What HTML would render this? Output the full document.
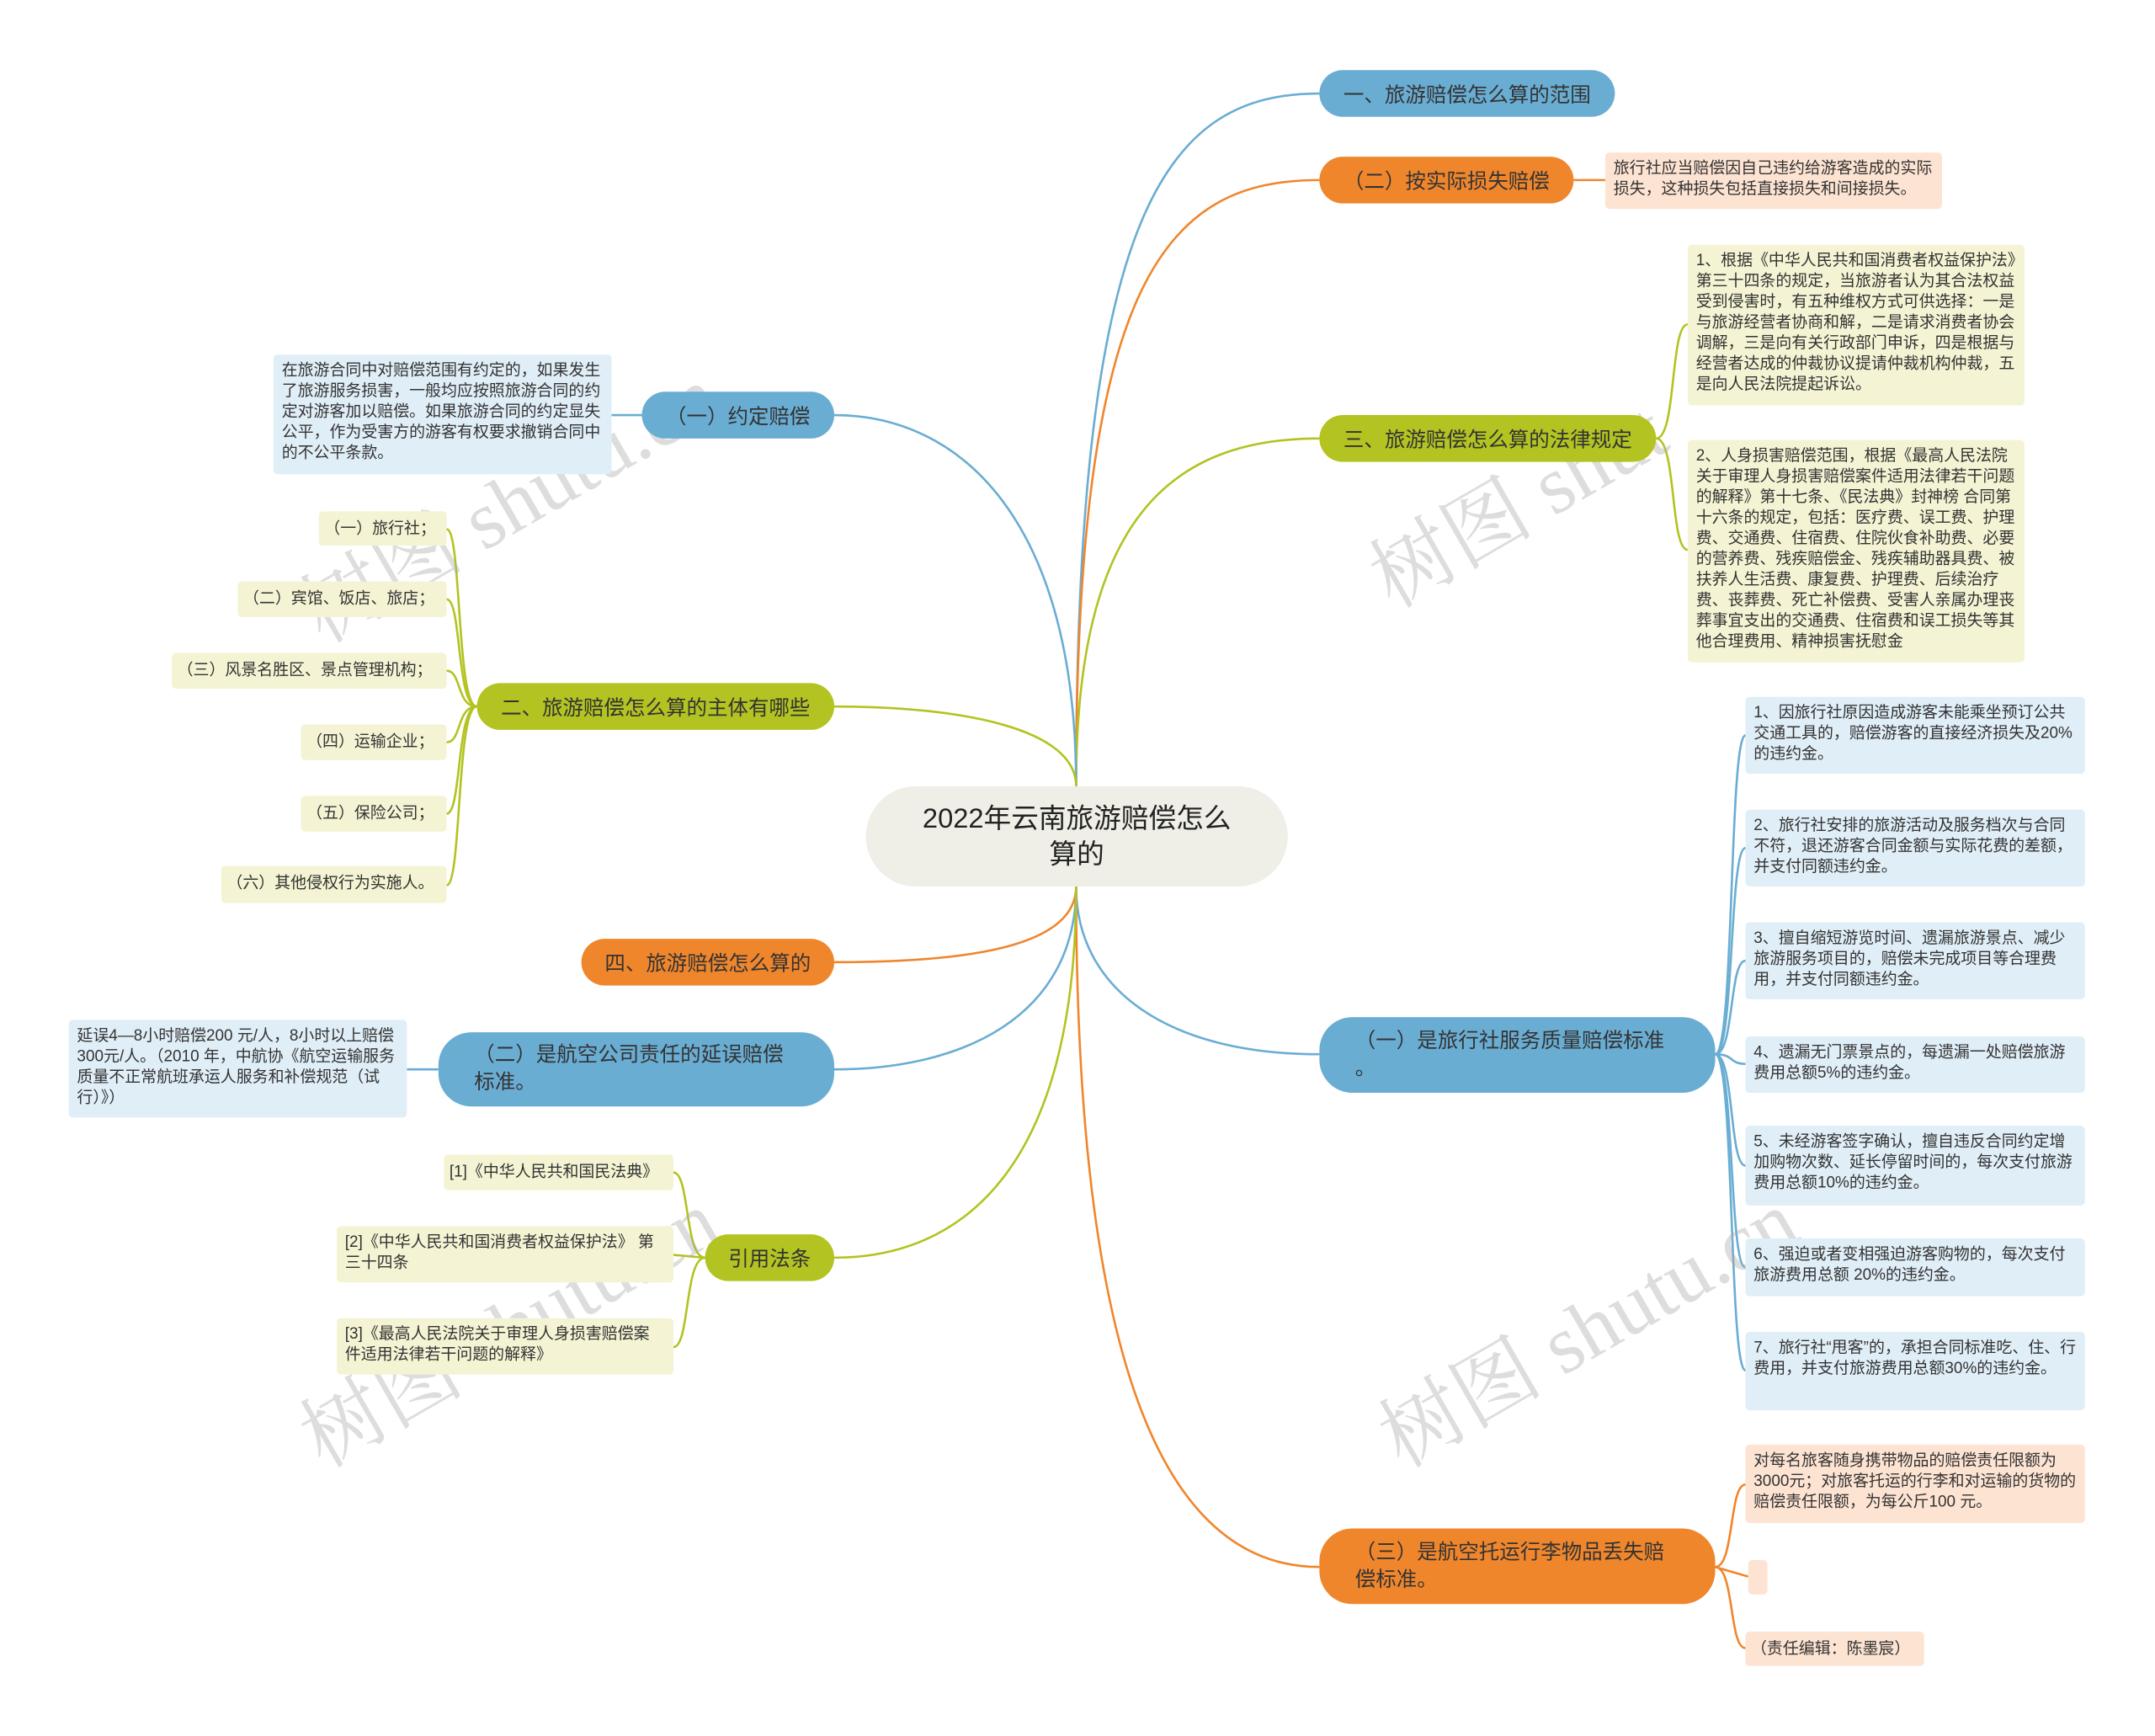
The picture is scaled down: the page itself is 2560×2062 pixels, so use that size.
<!DOCTYPE html>
<html><head><meta charset="utf-8"><style>
html,body{margin:0;padding:0;background:#fff;}
body{width:2560px;height:2062px;overflow:hidden;position:relative;}
#w{position:absolute;left:0;top:0;width:1568px;height:1263px;transform:scale(1.63265);transform-origin:0 0;font-family:"Liberation Sans","Noto Sans CJK SC",sans-serif;}
.n{position:absolute;box-sizing:border-box;display:flex;align-items:center;justify-content:center;font-size:15px;color:#333;border-radius:18px;}
.b{background:#6aadd3;}.o{background:#f0862c;}.g{background:#b3c321;}
.l{position:absolute;box-sizing:border-box;font-size:11.6px;line-height:15px;color:#333;padding:4px 6px;border-radius:3px;}
.s{white-space:nowrap;padding:5px 4px;}
.lb{background:#e0eef7;}.lo{background:#fde3d2;}.lg{background:#f4f4d4;}
.wm{position:absolute;font-size:60px;color:rgba(170,170,170,0.4);transform:rotate(-30deg);white-space:nowrap;font-family:"Liberation Serif","Noto Serif CJK SC",serif;}
svg{position:absolute;left:0;top:0;}
</style></head><body><div id="w">
<svg width="1568" height="1263" fill="none" stroke-width="1.6">
<path d="M783 572 C783 150 850 68 960 68" stroke="#6aadd3"/>
<path d="M783 572 C783 200 850 131 960 131" stroke="#f0862c"/>
<path d="M783 572 C783 380 850 319 960 319" stroke="#b3c321"/>
<path d="M783 645 C783 720 850 767 960 767" stroke="#6aadd3"/>
<path d="M783 645 C783 1000 850 1140 960 1140" stroke="#f0862c"/>
<path d="M783 572 C783 380 700 302 607 302" stroke="#6aadd3"/>
<path d="M783 572 C783 530 700 514 607 514" stroke="#b3c321"/>
<path d="M783 645 C783 690 700 700 607 700" stroke="#f0862c"/>
<path d="M783 645 C783 740 700 778 607 778" stroke="#6aadd3"/>
<path d="M783 645 C783 850 700 915 607 915" stroke="#b3c321"/>
<path d="M1145 131 L1168 131" stroke="#f0862c"/>
<path d="M1205 319 C1220 319 1215 236 1228 236 M1205 319 C1220 319 1215 400 1228 400" stroke="#b3c321"/>
<g stroke="#6aadd3"><path d="M1248 767 C1262 767 1258 535 1270 535"/><path d="M1248 767 C1262 767 1258 617 1270 617"/><path d="M1248 767 C1262 767 1258 699 1270 699"/><path d="M1248 767 C1262 767 1258 774 1270 774"/><path d="M1248 767 C1262 767 1258 848 1270 848"/><path d="M1248 767 C1262 767 1258 922 1270 922"/><path d="M1248 767 C1262 767 1258 997 1270 997"/></g>
<g stroke="#f0862c"><path d="M1248 1140 C1262 1140 1258 1080 1270 1080"/><path d="M1248 1140 L1272 1147"/><path d="M1248 1140 C1262 1140 1258 1199 1270 1199"/></g>
<path d="M467 302 L445 302" stroke="#6aadd3"/>
<g stroke="#b3c321"><path d="M347 514 C332 514 336 385 325 385"/><path d="M347 514 C332 514 336 436 325 436"/><path d="M347 514 C332 514 336 488 325 488"/><path d="M347 514 C332 514 336 540 325 540"/><path d="M347 514 C332 514 336 592 325 592"/><path d="M347 514 C332 514 336 644 325 644"/></g>
<path d="M319 778 L296 778" stroke="#6aadd3"/>
<g stroke="#b3c321"><path d="M513 915 C498 915 502 853 490 853"/><path d="M513 915 L490 913"/><path d="M513 915 C498 915 502 980 490 980"/></g>
</svg>
<div class="wm" style="left:200px;top:320px">树图 shutu.cn</div>
<div class="wm" style="left:200px;top:920px">树图 shutu.cn</div>
<div class="wm" style="left:985px;top:320px">树图 shut</div>
<div class="wm" style="left:985px;top:920px">树图 shutu.cn</div>

<div class="n" style="left:630px;top:572px;width:307px;height:73px;background:#efefe7;border-radius:37px;font-size:20px;text-align:center;line-height:26px;color:#222">2022年云南旅游赔偿怎么<br>算的</div>

<div class="n b" style="left:960px;top:51px;width:215px;height:34px">一、旅游赔偿怎么算的范围</div>
<div class="n o" style="left:960px;top:114px;width:185px;height:34px">（二）按实际损失赔偿</div>
<div class="l lo" style="left:1168px;top:111px;width:245px;height:41px">旅行社应当赔偿因自己违约给游客造成的实际损失，这种损失包括直接损失和间接损失。</div>
<div class="n g" style="left:960px;top:302px;width:245px;height:34px">三、旅游赔偿怎么算的法律规定</div>
<div class="l lg" style="left:1228px;top:178px;width:245px;height:117px">1、根据《中华人民共和国消费者权益保护法》第三十四条的规定，当旅游者认为其合法权益受到侵害时，有五种维权方式可供选择：一是与旅游经营者协商和解，二是请求消费者协会调解，三是向有关行政部门申诉，四是根据与经营者达成的仲裁协议提请仲裁机构仲裁，五是向人民法院提起诉讼。</div>
<div class="l lg" style="left:1228px;top:320px;width:245px;height:162px">2、人身损害赔偿范围，根据《最高人民法院关于审理人身损害赔偿案件适用法律若干问题的解释》第十七条、《民法典》封神榜 合同第十六条的规定，包括：医疗费、误工费、护理费、交通费、住宿费、住院伙食补助费、必要的营养费、残疾赔偿金、残疾辅助器具费、被扶养人生活费、康复费、护理费、后续治疗费、丧葬费、死亡补偿费、受害人亲属办理丧葬事宜支出的交通费、住宿费和误工损失等其他合理费用、精神损害抚慰金</div>
<div class="n b" style="left:960px;top:740px;width:288px;height:55px;border-radius:24px;justify-content:flex-start;padding-left:26px;line-height:20px">（一）是旅行社服务质量赔偿标准<br>。</div>
<div class="l lb" style="left:1270px;top:507px;width:247px;height:56px">1、因旅行社原因造成游客未能乘坐预订公共交通工具的，赔偿游客的直接经济损失及20%的违约金。</div>
<div class="l lb" style="left:1270px;top:589px;width:247px;height:56px">2、旅行社安排的旅游活动及服务档次与合同不符，退还游客合同金额与实际花费的差额，并支付同额违约金。</div>
<div class="l lb" style="left:1270px;top:671px;width:247px;height:56px">3、擅自缩短游览时间、遗漏旅游景点、减少旅游服务项目的，赔偿未完成项目等合理费用，并支付同额违约金。</div>
<div class="l lb" style="left:1270px;top:754px;width:247px;height:41px">4、遗漏无门票景点的，每遗漏一处赔偿旅游费用总额5%的违约金。</div>
<div class="l lb" style="left:1270px;top:819px;width:247px;height:58px">5、未经游客签字确认，擅自违反合同约定增加购物次数、延长停留时间的，每次支付旅游费用总额10%的违约金。</div>
<div class="l lb" style="left:1270px;top:901px;width:247px;height:42px">6、强迫或者变相强迫游客购物的，每次支付旅游费用总额 20%的违约金。</div>
<div class="l lb" style="left:1270px;top:969px;width:247px;height:57px">7、旅行社“甩客”的，承担合同标准吃、住、行费用，并支付旅游费用总额30%的违约金。</div>
<div class="n o" style="left:960px;top:1112px;width:288px;height:55px;border-radius:24px;justify-content:flex-start;padding-left:26px;line-height:20px">（三）是航空托运行李物品丢失赔<br>偿标准。</div>
<div class="l lo" style="left:1270px;top:1051px;width:247px;height:57px">对每名旅客随身携带物品的赔偿责任限额为3000元；对旅客托运的行李和对运输的货物的赔偿责任限额，为每公斤100 元。</div>
<div class="l lo" style="left:1272px;top:1135px;width:14px;height:25px"></div>
<div class="l lo s" style="left:1270px;top:1187px;width:130px;height:25px">（责任编辑：陈墨宸）</div>

<div class="n b" style="left:467px;top:285px;width:140px;height:34px">（一）约定赔偿</div>
<div class="l lb" style="left:199px;top:258px;width:246px;height:87px">在旅游合同中对赔偿范围有约定的，如果发生了旅游服务损害，一般均应按照旅游合同的约定对游客加以赔偿。如果旅游合同的约定显失公平，作为受害方的游客有权要求撤销合同中的不公平条款。</div>
<div class="n g" style="left:347px;top:497px;width:260px;height:34px">二、旅游赔偿怎么算的主体有哪些</div>
<div class="l lg s" style="left:232px;top:372px;width:93px;height:25px">（一）旅行社；</div>
<div class="l lg s" style="left:173px;top:423px;width:152px;height:26px">（二）宾馆、饭店、旅店；</div>
<div class="l lg s" style="left:125px;top:475px;width:200px;height:26px">（三）风景名胜区、景点管理机构；</div>
<div class="l lg s" style="left:219px;top:527px;width:106px;height:26px">（四）运输企业；</div>
<div class="l lg s" style="left:219px;top:579px;width:106px;height:26px">（五）保险公司；</div>
<div class="l lg s" style="left:161px;top:630px;width:164px;height:27px">（六）其他侵权行为实施人。</div>
<div class="n o" style="left:423px;top:683px;width:184px;height:34px">四、旅游赔偿怎么算的</div>
<div class="n b" style="left:319px;top:751px;width:288px;height:54px;border-radius:24px;justify-content:flex-start;padding-left:26px;line-height:20px">（二）是航空公司责任的延误赔偿<br>标准。</div>
<div class="l lb" style="left:50px;top:742px;width:246px;height:71px">延误4—8小时赔偿200 元/人，8小时以上赔偿300元/人。（2010 年，中航协《航空运输服务质量不正常航班承运人服务和补偿规范（试行）》）</div>
<div class="n g" style="left:513px;top:898px;width:94px;height:34px">引用法条</div>
<div class="l lg s" style="left:323px;top:840px;width:167px;height:26px">[1]《中华人民共和国民法典》</div>
<div class="l lg" style="left:245px;top:892px;width:245px;height:41px">[2]《中华人民共和国消费者权益保护法》 第三十四条</div>
<div class="l lg" style="left:245px;top:959px;width:245px;height:41px">[3]《最高人民法院关于审理人身损害赔偿案件适用法律若干问题的解释》</div>
</div></body></html>
